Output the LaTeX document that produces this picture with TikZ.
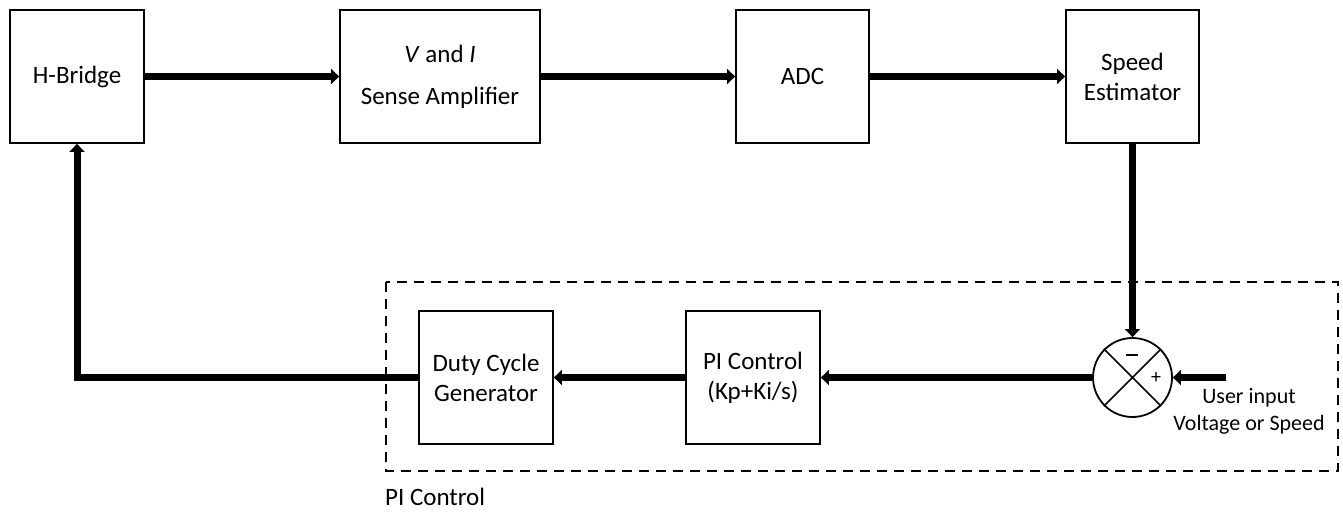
\documentclass[tikz,border=0pt]{standalone}
\usepackage{fontspec}
\setmainfont{Carlito}
\usetikzlibrary{arrows.meta,shapes.geometric}
\begin{document}
\begin{tikzpicture}[x=1pt,y=-1pt,
  blk/.style={draw,line width=1.8pt,minimum height=133pt,inner sep=0pt,align=center,
    font=\fontsize{25}{30}\selectfont},
  conn/.style={line width=7pt,-{Triangle[length=8pt,width=15pt]}},
  lbl/.style={font=\fontsize{25}{30}\selectfont,inner sep=0pt},
  ulbl/.style={font=\fontsize{22}{27}\selectfont,inner sep=0pt,align=center}]
\useasboundingbox (0,0) rectangle (1343,511);
% dashed PI region
\draw[line width=1.6pt,dash pattern=on 10pt off 7pt] (386,282) rectangle (1338,471);
% top row
\node[blk,minimum width=134pt] (hb) at (77,76.5) {H-Bridge};
\node[blk,minimum width=200pt] (sa) at (440,76.5) {\textit{V} and \textit{I}\\[12pt]Sense Amplifier};
\node[blk,minimum width=133pt] (adc) at (802.5,76.5) {ADC};
\node[blk,minimum width=133pt] (se) at (1132.5,76.5) {Speed\\Estimator};
% bottom row
\node[blk,minimum width=134pt] (dc) at (486,377.5) {Duty Cycle\\Generator};
\node[blk,minimum width=134pt] (pi) at (753,377.5) {PI Control\\(Kp+Ki/s)};
\node[draw,circle,line width=1.8pt,minimum size=79pt,inner sep=0pt] (sum) at (1132.5,377.5) {};
\draw[line width=1.6pt] (sum.north west) -- (sum.south east) (sum.north east) -- (sum.south west);
\node[inner sep=0pt] (minus) at (1132,355) {\rule{12pt}{1.8pt}};
\node[lbl,font=\fontsize{20}{24}\selectfont] (plus) at (1156,378) {+};
% labels
\node[ulbl] (ui) at (1249,411) {User input\\Voltage or Speed};
\node[lbl,anchor=west] (pil) at (385,497) {PI Control};
\coordinate (uin) at (1226,377.5);
% connectors
\draw[conn] (hb.east) -- (sa.west);
\draw[conn] (sa.east) -- (adc.west);
\draw[conn] (adc.east) -- (se.west);
\draw[conn] (se.south) -- (sum.north);
\draw[conn] (uin) -- (sum.east);
\draw[conn] (sum.west) -- (pi.east);
\draw[conn] (pi.west) -- (dc.east);
\draw[conn,line join=miter] (dc.west) -| (hb.south);
\end{tikzpicture}
\end{document}
